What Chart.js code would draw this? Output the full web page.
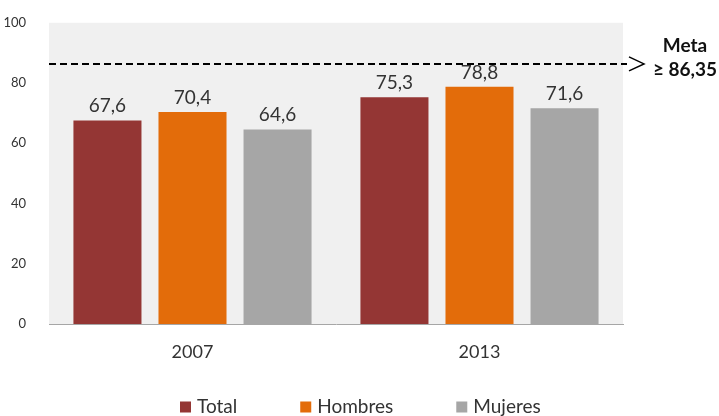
<!DOCTYPE html>
<html lang="es">
<head>
<meta charset="utf-8">
<script src="https://cdn.jsdelivr.net/npm/chart.js@4/dist/chart.umd.min.js"></script>
<style>
  html, body { margin: 0; padding: 0; background: #fff; }
  #wrap { width: 719px; height: 416px; }
</style>
</head>
<body>
<div id="wrap"><canvas id="grafico" width="719" height="416"></canvas></div>
<script>
// ---------------------------------------------------------------
// Datos
// ---------------------------------------------------------------
const ANIOS    = ['2007', '2013'];
const SERIES   = ['Total', 'Hombres', 'Mujeres'];
const TOTAL    = [67.6, 75.3];
const HOMBRES  = [70.4, 78.8];
const MUJERES  = [64.6, 71.6];
const Y_TICKS  = [0, 20, 40, 60, 80, 100];
const META     = 86.35;
const META_TXT = ['Meta', '≥ 86,35'];

const COLORES  = ['#943634', '#E36C0A', '#A6A6A6'];
const FUENTE   = 'Lato, "Open Sans", sans-serif';
const TEXTO    = '#333333';

const fmt = v => v.toFixed(1).replace('.', ',');

// fondo gris del área de trazado
const fondoPlugin = {
  id: 'fondo',
  beforeDraw(chart) {
    const { ctx, chartArea: a } = chart;
    ctx.save();
    ctx.fillStyle = '#F0F0F0';
    ctx.fillRect(a.left, a.top, a.right - a.left, a.bottom - a.top);
    ctx.restore();
  }
};

// etiquetas de valor, línea de meta y leyenda
const extrasPlugin = {
  id: 'extras',
  afterDatasetsDraw(chart) {
    const { ctx, chartArea: a, scales } = chart;
    ctx.save();

    // valores encima de cada barra
    ctx.font = '19px ' + FUENTE;
    ctx.fillStyle = TEXTO;
    ctx.textAlign = 'center';
    ctx.textBaseline = 'alphabetic';
    chart.data.datasets.forEach((ds, i) => {
      chart.getDatasetMeta(i).data.forEach((bar, j) => {
        ctx.fillText(fmt(ds.data[j]), bar.x, bar.y - 8);
      });
    });

    // línea discontinua de la meta
    const y = scales.y.getPixelForValue(META);
    ctx.strokeStyle = '#000';
    ctx.lineWidth = 2;
    ctx.setLineDash([7, 4]);
    ctx.beginPath();
    ctx.moveTo(a.left, y);
    ctx.lineTo(a.right + 4, y);
    ctx.stroke();
    ctx.setLineDash([]);

    // punta de flecha
    ctx.lineWidth = 1.5;
    ctx.beginPath();
    ctx.moveTo(a.right + 6, y - 7);
    ctx.lineTo(a.right + 21, y);
    ctx.lineTo(a.right + 6, y + 7);
    ctx.stroke();

    ctx.font = 'bold 19px ' + FUENTE;
    ctx.fillStyle = '#111';
    ctx.textBaseline = 'middle';
    ctx.fillText(META_TXT[0], 685, a.top + 23);
    ctx.fillText(META_TXT[1], 685, a.top + 47);

    // leyenda
    ctx.font = '19px ' + FUENTE;
    ctx.textAlign = 'left';
    ctx.textBaseline = 'middle';
    let x = 180;
    const ly = 407;
    SERIES.forEach((nombre, i) => {
      ctx.fillStyle = COLORES[i];
      ctx.fillRect(x, ly - 5.5, 11, 11);
      ctx.fillStyle = TEXTO;
      ctx.fillText(nombre, x + 17, ly);
      x += 17 + ctx.measureText(nombre).width + 63;
    });

    ctx.restore();
  }
};

new Chart(document.getElementById('grafico').getContext('2d'), {
  type: 'bar',
  data: {
    labels: ANIOS,
    datasets: [TOTAL, HOMBRES, MUJERES].map((d, i) => ({
      label: SERIES[i],
      data: d,
      backgroundColor: COLORES[i],
      borderWidth: 0,
      categoryPercentage: 0.889,
      barPercentage: 0.8
    }))
  },
  options: {
    responsive: false,
    animation: false,
    layout: { padding: { top: 20, right: 96, bottom: 52, left: 0 } },
    plugins: {
      legend: { display: false },
      tooltip: { enabled: false }
    },
    scales: {
      x: {
        afterFit: s => { s.height = 40; },
        grid: { display: true, color: 'rgba(0,0,0,0)', drawTicks: false },
        border: { display: true, color: '#A6A6A6', width: 1 },
        ticks: { color: TEXTO, font: { family: FUENTE, size: 18 }, padding: 17 }
      },
      y: {
        min: 0,
        max: 100,
        afterFit: s => { s.width = 49; },
        afterBuildTicks: s => { s.ticks = Y_TICKS.map(v => ({ value: v })); },
        grid: { display: false },
        border: { display: false },
        ticks: { color: TEXTO, font: { family: FUENTE, size: 13 }, padding: 15 }
      }
    }
  },
  plugins: [fondoPlugin, extrasPlugin]
});
</script>
</body>
</html>
